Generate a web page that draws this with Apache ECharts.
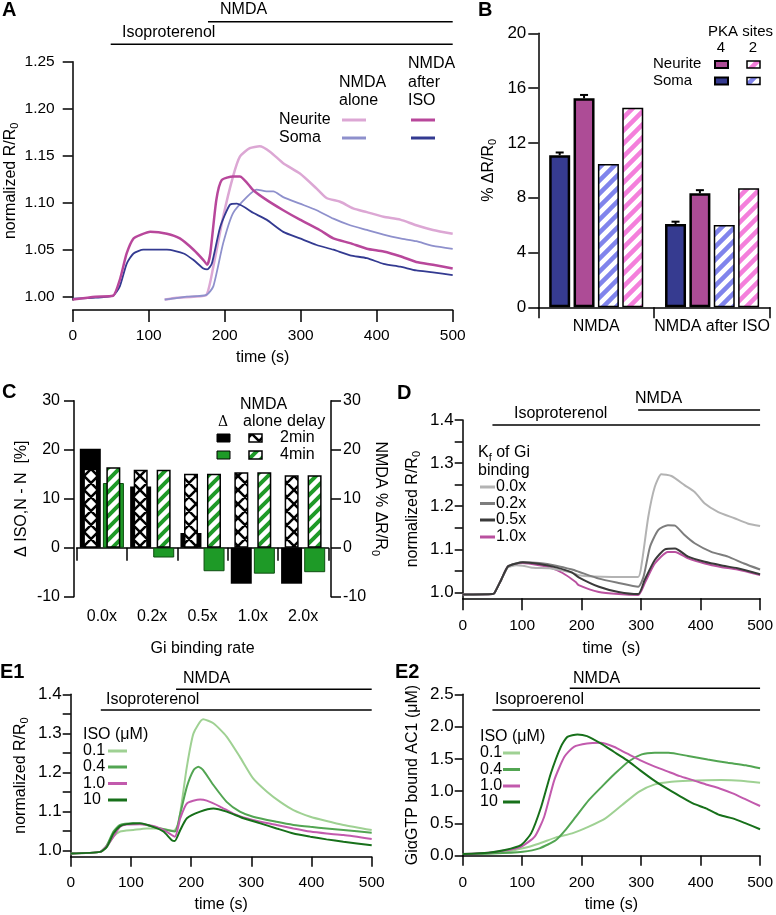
<!DOCTYPE html>
<html><head><meta charset="utf-8">
<script src="https://cdn.jsdelivr.net/npm/echarts@6/dist/echarts.min.js"></script>
<style>html,body{margin:0;padding:0;background:#fff}#c{width:776px;height:915px}</style>
</head><body><div id="c"></div>
<script>
// ---------------- DATA ----------------
// Panel A  [time s, normalized R/R0]
const A_neuriteAlone = [[121,0.997],[137,0.999],[159,1.000],[176,1.002],[185,1.032],[198,1.085],[211,1.128],[220,1.149],[233,1.158],[246,1.160],[260,1.154],[277,1.142],[299,1.131],[321,1.115],[334,1.105],[352,1.101],[369,1.094],[387,1.090],[409,1.085],[431,1.082],[452,1.076],[474,1.071],[500,1.067]];
const A_somaAlone = [[121,0.997],[150,1.000],[176,1.002],[185,1.011],[198,1.057],[211,1.089],[229,1.106],[242,1.114],[255,1.112],[264,1.112],[277,1.106],[299,1.099],[321,1.092],[343,1.083],[365,1.076],[387,1.071],[409,1.066],[431,1.062],[452,1.059],[474,1.054],[500,1.051]];
const A_neuriteAfter = [[0,0.997],[30,1.0],[53,1.001],[62,1.018],[71,1.046],[80,1.062],[90,1.066],[102,1.069],[124,1.067],[141,1.062],[159,1.050],[172,1.039],[177,1.034],[181,1.046],[189,1.103],[196,1.124],[211,1.128],[220,1.128],[238,1.113],[255,1.103],[277,1.092],[299,1.082],[325,1.071],[343,1.062],[365,1.057],[387,1.051],[409,1.048],[431,1.043],[452,1.037],[474,1.034],[500,1.030]];
const A_somaAfter = [[0,0.998],[30,0.999],[53,1.001],[62,1.011],[71,1.035],[80,1.046],[93,1.050],[124,1.050],[146,1.046],[159,1.039],[172,1.030],[177,1.029],[183,1.035],[194,1.074],[207,1.098],[216,1.099],[238,1.089],[255,1.082],[277,1.069],[299,1.062],[321,1.055],[343,1.050],[365,1.044],[387,1.041],[409,1.035],[431,1.032],[452,1.028],[474,1.026],[500,1.023]];
const A_yTicks = [1.00,1.05,1.10,1.15,1.20,1.25];
const A_iso = 50, A_nmda = 178;

// Panel B  (% dR/R0)
const B_categories = ['NMDA','NMDA after ISO'];
const B_soma4 = [11.1, 6.08];
const B_neurite4 = [15.25, 8.32];
const B_soma2 = [10.46, 6.01];
const B_neurite2 = [14.57, 8.69];
const B_soma4Err = [0.2, 0.17];
const B_neurite4Err = [0.25, 0.23];

// Panel C
const C_categories = ['0.0x','0.2x','0.5x','1.0x','2.0x'];
const C_delta2 = [20.2, 12.5, 3.0, -7.35, -7.35];
const C_delta4 = [13.2, -2.0, -4.8, -5.3, -5.0];
const C_alone2 = [16.1, 15.9, 15.1, 15.4, 14.8];
const C_alone4 = [16.4, 15.9, 15.1, 15.4, 14.8];

// Panel D
const D_k00 = [[0,0.995],[50,0.996],[54,1.0],[65,1.03],[76,1.058],[90,1.063],[101,1.062],[118,1.057],[146,1.056],[170,1.05],[184,1.046],[195,1.04],[220,1.037],[251,1.036],[295,1.036],[301,1.067],[312,1.175],[323,1.245],[334,1.274],[351,1.270],[373,1.249],[390,1.233],[407,1.206],[429,1.187],[457,1.172],[479,1.160],[500,1.154]];
const D_k02 = [[0,0.995],[50,0.996],[54,1.0],[65,1.03],[76,1.06],[90,1.067],[101,1.07],[129,1.068],[157,1.062],[184,1.053],[195,1.048],[229,1.032],[262,1.022],[295,1.013],[304,1.036],[315,1.106],[329,1.145],[345,1.156],[357,1.155],[373,1.133],[390,1.114],[418,1.094],[446,1.083],[473,1.067],[500,1.053]];
const D_k05 = [[0,0.995],[50,0.996],[54,1.0],[65,1.03],[76,1.06],[90,1.067],[101,1.07],[129,1.066],[157,1.058],[184,1.046],[195,1.035],[229,1.013],[262,1.001],[295,0.996],[306,1.029],[323,1.075],[340,1.100],[357,1.102],[379,1.083],[407,1.071],[434,1.063],[462,1.056],[500,1.042]];
const D_k10 = [[0,0.995],[50,0.996],[54,1.0],[65,1.03],[76,1.06],[90,1.066],[101,1.068],[129,1.063],[146,1.058],[168,1.045],[190,1.024],[195,1.017],[229,1.001],[262,0.996],[295,0.994],[306,1.021],[323,1.067],[345,1.094],[357,1.094],[379,1.079],[407,1.067],[434,1.059],[462,1.053],[500,1.040]];
const D_yTicks = [1.0,1.05,1.1,1.15,1.2,1.25,1.3,1.35,1.4];
const D_yLabels = [1.0,1.1,1.2,1.3,1.4];
const D_legend = ['0.0x','0.2x','0.5x','1.0x'];
const D_iso = 50, D_nmda = 295;

// Panel E1
const E1_c01 = [[0,0.993],[49,0.997],[60,1.01],[71,1.036],[82,1.049],[104,1.053],[126,1.057],[148,1.057],[171,1.051],[179,1.07],[193,1.215],[204,1.30],[220,1.336],[237,1.326],[259,1.292],[281,1.24],[303,1.185],[326,1.151],[348,1.125],[370,1.104],[398,1.087],[425,1.076],[453,1.066],[500,1.053]];
const E1_c04 = [[0,0.993],[49,0.997],[60,1.014],[71,1.049],[82,1.066],[104,1.07],[126,1.066],[148,1.057],[173,1.049],[182,1.095],[193,1.164],[204,1.206],[212,1.215],[220,1.206],[237,1.168],[259,1.125],[281,1.10],[303,1.087],[342,1.074],[370,1.066],[398,1.061],[425,1.057],[453,1.053],[500,1.046]];
const E1_c1 = [[0,0.993],[49,0.997],[60,1.012],[71,1.036],[82,1.061],[93,1.067],[115,1.068],[137,1.063],[159,1.049],[173,1.036],[182,1.083],[193,1.121],[215,1.131],[226,1.128],[248,1.113],[270,1.095],[292,1.083],[315,1.074],[342,1.066],[370,1.057],[398,1.049],[425,1.044],[453,1.040],[500,1.030]];
const E1_c10 = [[0,0.993],[49,0.997],[60,1.01],[71,1.044],[82,1.063],[93,1.068],[115,1.07],[137,1.061],[154,1.049],[168,1.027],[173,1.025],[182,1.053],[193,1.083],[215,1.10],[237,1.108],[259,1.10],[287,1.083],[315,1.07],[342,1.057],[370,1.044],[398,1.036],[425,1.029],[453,1.023],[500,1.014]];
const E_legend = ['0.1','0.4','1.0','10'];
const E1_iso = 50, E1_nmda = 175;

// Panel E2
const E2_c01 = [[0,0.026],[50,0.04],[71,0.062],[101,0.114],[129,0.19],[157,0.284],[184,0.346],[212,0.45],[240,0.578],[268,0.785],[296,0.99],[323,1.105],[351,1.147],[379,1.162],[434,1.172],[468,1.162],[500,1.131]];
const E2_c04 = [[0,0.026],[50,0.035],[101,0.062],[129,0.114],[157,0.243],[173,0.40],[190,0.60],[212,0.86],[234,1.07],[257,1.28],[279,1.46],[301,1.57],[323,1.596],[346,1.596],[379,1.544],[412,1.49],[446,1.44],[476,1.40],[500,1.353]];
const E2_c1 = [[0,0.026],[43,0.046],[71,0.08],[98,0.139],[121,0.294],[137,0.604],[154,1.171],[171,1.532],[187,1.687],[209,1.739],[232,1.749],[254,1.687],[276,1.584],[298,1.481],[321,1.388],[343,1.311],[365,1.233],[387,1.171],[409,1.104],[432,1.042],[454,0.965],[476,0.872],[500,0.77]];
const E2_c10 = [[0,0.026],[43,0.046],[71,0.088],[98,0.165],[115,0.346],[132,0.759],[148,1.27],[165,1.687],[176,1.84],[193,1.878],[209,1.852],[232,1.739],[254,1.61],[276,1.481],[298,1.326],[321,1.171],[343,1.042],[365,0.924],[387,0.81],[409,0.733],[432,0.63],[454,0.578],[476,0.50],[500,0.41]];
const E2_iso = 50, E2_nmda = 180;

// ---------------- STYLE ----------------
const FONT = '"Liberation Sans", Arial, sans-serif';
const COL = {
  nAlone:'#dca7d4', sAlone:'#8e90cc', nAfter:'#b8479b', sAfter:'#333a91',
  b_soma4:'#363b90', b_neur4:'#ad4c96', b_soma2:'#8084ec', b_neur2:'#f47fdb',
  green:'#1e9a27',
  d00:'#b3b3b3', d02:'#7d7d7d', d05:'#3a3a3a', d10:'#b9509f',
  e01:'#9fd193', e04:'#52a552', e1:'#c25aad', e10:'#17701a'
};

function pat(color, size, lw, cross) {
  const c = document.createElement('canvas');
  c.width = c.height = size;
  const g = c.getContext('2d');
  g.fillStyle = '#fff'; g.fillRect(0,0,size,size);
  g.strokeStyle = color; g.lineWidth = lw;
  g.beginPath();
  g.moveTo(-2, size+2); g.lineTo(size+2, -2);
  g.moveTo(-2, 2); g.lineTo(2, -2);
  g.moveTo(size-2, size+2); g.lineTo(size+2, size-2);
  if (cross) {
    g.moveTo(-2,-2); g.lineTo(size+2,size+2);
    g.moveTo(size-2,-2); g.lineTo(size+2,2);
    g.moveTo(-2,size-2); g.lineTo(2,size+2);
  }
  g.stroke();
  return {image: c, repeat: 'repeat'};
}
const P_blue = pat(COL.b_soma2, 13, 4.5);
const P_pink = pat(COL.b_neur2, 13, 4.5);
const P_green = pat(COL.green, 12, 4);
const P_cross = pat('#000', 14, 2.5, true);

const SUB = {s:{fontSize:11, fontFamily:FONT, padding:[9,0,0,0], color:'#000'}};
const axLine = {show:true, lineStyle:{color:'#000', width:1.5}};
function tick(len){ return {show:true, length:len, lineStyle:{color:'#000', width:1.5}}; }
function lab(size, margin, extra){ return Object.assign({color:'#000', fontSize:size, fontFamily:FONT, margin:margin}, extra||{}); }
const nameStyle = {color:'#000', fontSize:16, fontFamily:FONT, rich:SUB};

function timeAxis(grid, o) {
  return Object.assign({type:'value', gridIndex:grid, min:0, max:500, interval:100,
    axisLine:axLine, axisTick:tick(12), axisLabel:lab(15.5,18), splitLine:{show:false},
    nameLocation:'middle', nameGap:40, nameTextStyle:nameStyle}, o);
}

// ---------------- OPTION ----------------
const BAR_W = 21, BAR_STEP = 21*1.16;
const lineS = (name, data, xi, yi, color, w) => ({type:'line', name, data, xAxisIndex:xi, yAxisIndex:yi,
  showSymbol:false, smooth:0.2, lineStyle:{color, width:w}, itemStyle:{color}, silent:true});

const option = {
  animation:false,
  backgroundColor:'#fff',
  textStyle:{fontFamily:FONT},
  grid:[
    {left:72.7, top:61.7, width:380, height:238.3},
    {left:538.3, top:33.3, width:231.7, height:274},
    {left:76.7, top:400.7, width:251.6, height:196},
    {left:462.7, top:420, width:300, height:178.3},
    {left:70.7, top:694.3, width:301, height:162.4},
    {left:462.7, top:694.3, width:300, height:161.4}
  ],
  xAxis:[
    timeAxis(0, {offset:10, name:'time (s)', nameGap:40}),
    {type:'category', gridIndex:1, data:B_categories, offset:3.5, axisLine:axLine, axisTick:tick(11),
      axisLabel:lab(16,8,{interval:0})},
    {type:'category', gridIndex:2, data:C_categories, axisLine:axLine, axisTick:tick(13),
      axisLabel:lab(16,12,{interval:0}), name:'Gi binding rate', nameLocation:'middle', nameGap:44, nameTextStyle:nameStyle},
    {type:'category', gridIndex:2, data:C_categories, position:'top', show:false},
    timeAxis(3, {name:'time  (s)', nameGap:42, axisLabel:lab(15.5,19)}),
    timeAxis(4, {name:'time (s)', nameGap:40, axisTick:tick(10), axisLabel:lab(15.5,18)}),
    timeAxis(5, {offset:1.6, name:'time (s)', nameGap:39, axisTick:tick(10), axisLabel:lab(15.5,17)})
  ],
  yAxis:[
    {type:'value', gridIndex:0, min:0.9965, max:1.25, axisLine:axLine,
      axisTick:Object.assign(tick(10), {customValues:A_yTicks}),
      axisLabel:lab(15.5,18,{customValues:A_yTicks, formatter:v=>v.toFixed(2), showMinLabel:true, showMaxLabel:true}),
      splitLine:{show:false}, name:'normalized R/R{s|0}', nameLocation:'middle', nameGap:52, nameTextStyle:nameStyle},
    {type:'value', gridIndex:1, min:0, max:20, interval:4, axisLine:axLine, axisTick:tick(10),
      axisLabel:lab(17,12), splitLine:{show:false},
      name:'% ΔR/R{s|0}', nameLocation:'middle', nameGap:40, nameTextStyle:nameStyle},
    {type:'value', gridIndex:2, min:-10, max:30, interval:10, offset:2.7, axisLine:axLine, axisTick:tick(10),
      axisLabel:lab(16,14), splitLine:{show:false},
      name:'Δ ISO,N - N  [%]', nameLocation:'middle', nameGap:44, nameTextStyle:nameStyle},
    {type:'value', gridIndex:2, position:'right', min:-10, max:30, interval:10, offset:2.7, axisLine:axLine, axisTick:tick(10),
      axisLabel:lab(16,12), splitLine:{show:false},
      name:'NMDA % ΔR/R{s|0}', nameLocation:'middle', nameRotate:-90, nameGap:36, nameTextStyle:nameStyle},
    {type:'value', gridIndex:3, min:0.9863, max:1.4, axisLine:axLine,
      axisTick:Object.assign(tick(8), {customValues:D_yTicks}),
      axisLabel:lab(17,9,{customValues:D_yLabels, formatter:v=>v.toFixed(1), showMinLabel:true, showMaxLabel:true}),
      splitLine:{show:false}, name:'normalized R/R{s|0}', nameLocation:'middle', nameGap:40, nameTextStyle:nameStyle},
    {type:'value', gridIndex:4, min:0.9847, max:1.4, axisLine:axLine,
      axisTick:Object.assign(tick(8), {customValues:D_yTicks}),
      axisLabel:lab(17,9,{customValues:D_yLabels, formatter:v=>v.toFixed(1), showMinLabel:true, showMaxLabel:true}),
      splitLine:{show:false}, name:'normalized R/R{s|0}', nameLocation:'middle', nameGap:40, nameTextStyle:nameStyle},
    {type:'value', gridIndex:5, min:0, max:2.5, interval:0.5, axisLine:axLine, axisTick:tick(8),
      axisLabel:lab(17,9,{formatter:v=>v.toFixed(1)}), splitLine:{show:false},
      name:'GiαGTP bound AC1 (μM)', nameLocation:'middle', nameGap:42, nameTextStyle:nameStyle}
  ],
  series:[
    // A
    lineS('Neurite alone', A_neuriteAlone, 0, 0, COL.nAlone, 2.5),
    lineS('Soma alone', A_somaAlone, 0, 0, COL.sAlone, 1.8),
    lineS('Soma after ISO', A_somaAfter, 0, 0, COL.sAfter, 1.8),
    lineS('Neurite after ISO', A_neuriteAfter, 0, 0, COL.nAfter, 2.5),
    // B
    {type:'bar', name:'Soma 4', xAxisIndex:1, yAxisIndex:1, data:B_soma4, barWidth:BAR_W, barGap:'16%',
      itemStyle:{color:COL.b_soma4, borderColor:'#000', borderWidth:2.5}},
    {type:'bar', name:'Neurite 4', xAxisIndex:1, yAxisIndex:1, data:B_neurite4, barWidth:BAR_W, barGap:'16%',
      itemStyle:{color:COL.b_neur4, borderColor:'#000', borderWidth:2.5}},
    {type:'bar', name:'Soma 2', xAxisIndex:1, yAxisIndex:1, data:B_soma2, barWidth:BAR_W, barGap:'16%',
      itemStyle:{color:P_blue, borderColor:'#000', borderWidth:1.5}},
    {type:'bar', name:'Neurite 2', xAxisIndex:1, yAxisIndex:1, data:B_neurite2, barWidth:BAR_W, barGap:'16%',
      itemStyle:{color:P_pink, borderColor:'#000', borderWidth:1.5}},
    {type:'custom', name:'err', xAxisIndex:1, yAxisIndex:1, z:5,
      data: B_categories.flatMap((c,i)=>[[i, B_soma4[i], B_soma4Err[i], 0],[i, B_neurite4[i], B_neurite4Err[i], 1]]),
      renderItem:(params, api)=>{
        const cat=api.value(0), v=api.value(1), e=api.value(2), slot=api.value(3);
        const base=api.coord([cat, v]), top=api.coord([cat, v+e]);
        const x = base[0] + (slot-1.5)*BAR_STEP;
        return {type:'group', children:[
          {type:'line', shape:{x1:x,y1:base[1],x2:x,y2:top[1]}, style:{stroke:'#000', lineWidth:2}},
          {type:'line', shape:{x1:x-4,y1:top[1],x2:x+4,y2:top[1]}, style:{stroke:'#000', lineWidth:2}}
        ]};
      }},
    // C
    {type:'bar', name:'Δ 2min', xAxisIndex:2, yAxisIndex:2, data:C_delta2, barWidth:21, barGap:'10%',
      itemStyle:{color:'#000'}},
    {type:'bar', name:'Δ 4min', xAxisIndex:2, yAxisIndex:2, data:C_delta4, barWidth:21, barGap:'10%',
      itemStyle:{color:COL.green, borderColor:'#0d4d10', borderWidth:1}},
    {type:'bar', name:'alone 2min', xAxisIndex:3, yAxisIndex:3, data:C_alone2, barWidth:14, barGap:'64%',
      itemStyle:{color:P_cross, borderColor:'#000', borderWidth:1.5}},
    {type:'bar', name:'alone 4min', xAxisIndex:3, yAxisIndex:3, data:C_alone4, barWidth:14, barGap:'64%',
      itemStyle:{color:P_green, borderColor:'#000', borderWidth:1.5}},
    // D
    lineS('1.0x', D_k10, 4, 4, COL.d10, 2),
    lineS('0.0x', D_k00, 4, 4, COL.d00, 2),
    lineS('0.2x', D_k02, 4, 4, COL.d02, 2),
    lineS('0.5x', D_k05, 4, 4, COL.d05, 2),
    // E1
    lineS('0.1', E1_c01, 5, 5, COL.e01, 2),
    lineS('0.4', E1_c04, 5, 5, COL.e04, 2),
    lineS('1.0', E1_c1, 5, 5, COL.e1, 2),
    lineS('10', E1_c10, 5, 5, COL.e10, 2),
    // E2
    lineS('0.1', E2_c01, 6, 6, COL.e01, 2),
    lineS('0.4', E2_c04, 6, 6, COL.e04, 2),
    lineS('1.0', E2_c1, 6, 6, COL.e1, 2),
    lineS('10', E2_c10, 6, 6, COL.e10, 2)
  ]
};

const chart = echarts.init(document.getElementById('c'));
chart.setOption(option);

// ---------------- ANNOTATIONS / LEGENDS ----------------
function T(x, y, text, o) {
  o = o || {};
  return {type:'text', x, y, silent:true, style:{text, fill:'#000', fontSize:o.size||16, fontFamily:o.family||FONT,
    fontWeight:o.weight||'normal', align:o.align||'left', verticalAlign:'middle', rich:o.rich}};
}
function L(x1,y1,x2,y2,color,w){ return {type:'line', silent:true, shape:{x1,y1,x2,y2}, style:{stroke:color||'#000', lineWidth:w||1.5}}; }
function R(x,y,w,h,fill,lw){ return {type:'rect', silent:true, shape:{x,y,width:w,height:h}, style:{fill, stroke:'#000', lineWidth:lw||1.5}}; }
const px = (xi, v) => chart.convertToPixel({xAxisIndex:xi}, v);

const g = [];
// panel letters
g.push(T(2,10,'A',{weight:'bold',size:20}), T(478,10,'B',{weight:'bold',size:20}),
  T(2,392,'C',{weight:'bold',size:20}), T(397,393,'D',{weight:'bold',size:20}),
  T(0,672,'E1',{weight:'bold',size:20}), T(395,672,'E2',{weight:'bold',size:20}));

// treatment bars
const ann = [
  {xi:0, iso:A_iso, nmda:A_nmda, isoY:44.3, nmdaY:21.7, isoTx:122, isoTy:33, nmdaTx:220, nmdaTy:10, isoText:'Isoproterenol'},
  {xi:4, iso:D_iso, nmda:D_nmda, isoY:425, nmdaY:410, isoTx:514, isoTy:414, nmdaTx:635, nmdaTy:399, isoText:'Isoproterenol'},
  {xi:5, iso:E1_iso, nmda:E1_nmda, isoY:710, nmdaY:689.3, isoTx:106, isoTy:700, nmdaTx:183, nmdaTy:679, isoText:'Isoproterenol'},
  {xi:6, iso:E2_iso, nmda:E2_nmda, isoY:710, nmdaY:688.3, isoTx:495, isoTy:700, nmdaTx:573, nmdaTy:679, isoText:'Isoproerenol'}
];
ann.forEach(a=>{
  const end = px(a.xi, 500);
  g.push(L(px(a.xi,a.iso), a.isoY, end, a.isoY), L(px(a.xi,a.nmda), a.nmdaY, end, a.nmdaY),
    T(a.isoTx, a.isoTy, a.isoText), T(a.nmdaTx, a.nmdaTy, 'NMDA'));
});

// A legend
g.push(T(339,83,'NMDA'), T(339,101,'alone'), T(408,64,'NMDA'), T(408,83,'after'), T(408,101,'ISO'),
  T(279,120,'Neurite'), T(279,138,'Soma'),
  L(342,120,366,120,COL.nAlone,3), L(411,120,435,120,COL.nAfter,3),
  L(342,138,366,138,COL.sAlone,3), L(411,138,435,138,COL.sAfter,3));

// B legend
g.push(T(708,32,'PKA sites',{size:15}), T(721,48,'4',{size:15,align:'center'}), T(753,48,'2',{size:15,align:'center'}),
  T(653,64,'Neurite',{size:15}), T(653,81,'Soma',{size:15}),
  R(715,61,13,7,COL.b_neur4,2), R(747,61,13,7,P_pink,1.5),
  R(715,77.5,13,7,COL.b_soma4,2), R(747,77.5,13,7,P_blue,1.5));

// C legend
g.push(T(240,405,'NMDA'), T(223,422,'Δ',{align:'center',family:'"DejaVu Serif", serif',size:14}),
  T(243,422,'alone'), T(287,422,'delay'),
  R(217,434,13,8,'#000',1), R(249,434,13,8,P_cross,1.5), T(280,438,'2min'),
  R(217,451,13,8,COL.green,1), R(249,451,13,8,P_green,1.5), T(280,455,'4min'));

// D legend
g.push(T(478,453,'K{s|f} of Gi',{rich:{s:{fontSize:11,fontFamily:FONT,padding:[9,0,0,0]}}}), T(478,471,'binding'));
const dCols = [COL.d00, COL.d02, COL.d05, COL.d10], dYs = [487,503.5,520,537];
D_legend.forEach((s,i)=>{ g.push(L(480,dYs[i],495,dYs[i],dCols[i],3), T(496,dYs[i],s)); });

// E legends
const eCols = [COL.e01, COL.e04, COL.e1, COL.e10];
g.push(T(83,735,'ISO (μM)'));
[751,767,783.5,800].forEach((y,i)=>{ g.push(T(83,y,E_legend[i]), L(108,y,127,y,eCols[i],3)); });
g.push(T(480,737,'ISO (μM)'));
[753,769.5,786,802].forEach((y,i)=>{ g.push(T(480,y,E_legend[i]), L(503,y,520,y,eCols[i],3)); });

chart.setOption({graphic: g});
</script>
</body></html>
